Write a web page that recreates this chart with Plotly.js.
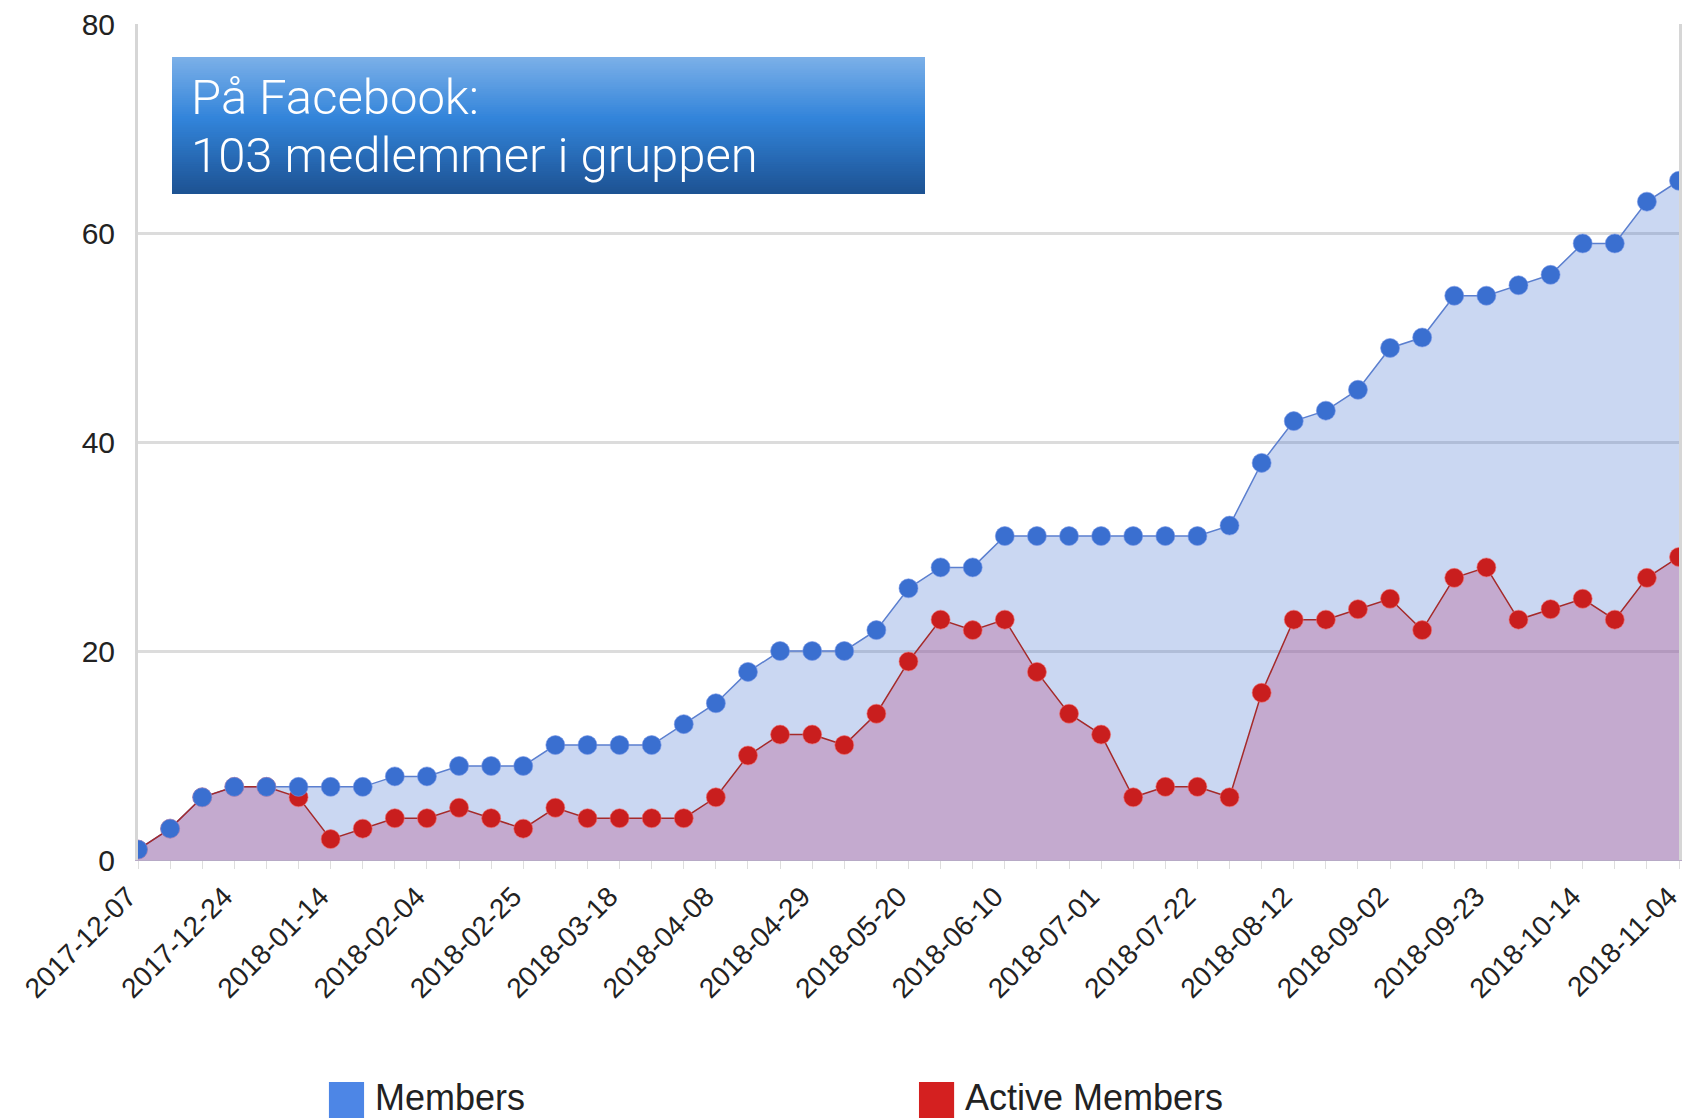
<!DOCTYPE html>
<html>
<head>
<meta charset="utf-8">
<script src="https://cdn.plot.ly/plotly-3.0.1.min.js"></script>
<style>
  html, body { margin: 0; padding: 0; background: #ffffff; }
  #chart { width: 1691px; height: 1119px; }
</style>
</head>
<body>
<div id="chart"></div>
<script>
// ---- data ----
const dates = [
  "2017-12-07","2017-12-10","2017-12-17","2017-12-24","2017-12-31","2018-01-07","2018-01-14",
  "2018-01-21","2018-01-28","2018-02-04","2018-02-11","2018-02-18","2018-02-25","2018-03-04",
  "2018-03-11","2018-03-18","2018-03-25","2018-04-01","2018-04-08","2018-04-15","2018-04-22",
  "2018-04-29","2018-05-06","2018-05-13","2018-05-20","2018-05-27","2018-06-03","2018-06-10",
  "2018-06-17","2018-06-24","2018-07-01","2018-07-08","2018-07-15","2018-07-22","2018-07-29",
  "2018-08-05","2018-08-12","2018-08-19","2018-08-26","2018-09-02","2018-09-09","2018-09-16",
  "2018-09-23","2018-09-30","2018-10-07","2018-10-14","2018-10-21","2018-10-28","2018-11-04"
];
const members = [
  1, 3, 6, 7, 7, 7, 7, 7, 8, 8, 9, 9, 9, 11, 11, 11, 11, 13, 15, 18, 20, 20, 20, 22, 26,
  28, 28, 31, 31, 31, 31, 31, 31, 31, 32, 38, 42, 43, 45, 49, 50, 54, 54, 55, 56, 59, 59, 63, 65
];
const activeMembers = [
  1, 3, 6, 7, 7, 6, 2, 3, 4, 4, 5, 4, 3, 5, 4, 4, 4, 4, 6, 10, 12, 12, 11, 14, 19,
  23, 22, 23, 18, 14, 12, 6, 7, 7, 6, 16, 23, 23, 24, 25, 22, 27, 28, 23, 24, 25, 23, 27, 29
];
const labeledDates = [
  "2017-12-07","2017-12-24","2018-01-14","2018-02-04","2018-02-25","2018-03-18","2018-04-08",
  "2018-04-29","2018-05-20","2018-06-10","2018-07-01","2018-07-22","2018-08-12","2018-09-02",
  "2018-09-23","2018-10-14","2018-11-04"
];
const yTicks = [0, 20, 40, 60, 80];
const seriesNames = ["Members", "Active Members"];
const boxLines = ["På Facebook:", "103 medlemmer i gruppen"];

// ---- styles ----
const blue = "#3a6fd0";
const red = "#c91e1e";
const legendColors = ["#4d86e6", "#d42020"];
const font = "Liberation Sans, Arial, sans-serif";

const traces = [
  { // members area + line
    x: dates, y: members, type: "scatter", mode: "lines", name: seriesNames[0],
    fill: "tozeroy", fillcolor: "rgba(51,102,204,0.26)",
    line: { color: "#5b7fcf", width: 1.5 }, showlegend: false, hoverinfo: "skip"
  },
  { // active members area + line + markers
    x: dates, y: activeMembers, type: "scatter", mode: "lines+markers", name: seriesNames[1],
    fill: "tozeroy", fillcolor: "rgba(185,86,142,0.35)",
    line: { color: "#a52a2a", width: 1.5 },
    marker: { color: red, size: 19, line: { color: "rgba(240,110,110,0.6)", width: 1 } },
    showlegend: false
  },
  { // members markers on top
    x: dates, y: members, type: "scatter", mode: "markers", name: seriesNames[0],
    marker: { color: blue, size: 19, line: { color: "rgba(120,150,230,0.6)", width: 1 } },
    showlegend: false
  }
];

// gradient box built from overlapping strips
const bx0 = 0.0221, bx1 = 0.5107, byTop = 0.9605, byBot = 0.7967;
const stops = [
  [0.0, [124, 176, 232]],
  [0.45, [50, 132, 218]],
  [1.0, [29, 82, 146]]
];
function colAt(t) {
  for (let k = 0; k < stops.length - 1; k++) {
    const a = stops[k], b = stops[k + 1];
    if (t >= a[0] && t <= b[0]) {
      const f = (t - a[0]) / (b[0] - a[0]);
      const c = a[1].map((v, j) => Math.round(v + (b[1][j] - v) * f));
      return "rgb(" + c.join(",") + ")";
    }
  }
  return "rgb(29,82,146)";
}
const shapes = [];
const N = 60;
for (let s = 0; s < N; s++) {
  const t0 = s / N;
  shapes.push({
    type: "rect", xref: "paper", yref: "paper", layer: "above",
    x0: bx0, x1: bx1,
    y0: byBot, y1: byTop - (byTop - byBot) * t0,
    fillcolor: colAt(t0 + 0.5 / N), line: { width: 0 }
  });
}

// box text lines and manual legend
const lineY = [0.9115, 0.8425];
const annotations = boxLines.map((t, i) => ({
  xref: "paper", yref: "paper", x: 0.0333, y: lineY[i], xanchor: "left", yanchor: "middle",
  text: t, showarrow: false, align: "left",
  font: { family: "Roboto, Lato, sans-serif", size: 49, color: "#ffffff", weight: 300 }
}));
const legendX = [0.1239, 0.5068];
seriesNames.forEach((nm, i) => {
  shapes.push({
    type: "rect", xref: "paper", yref: "paper",
    x0: legendX[i], x1: legendX[i] + 0.0228, y0: -0.3086, y1: -0.2656,
    fillcolor: legendColors[i], line: { width: 0 }
  });
  annotations.push({
    xref: "paper", yref: "paper", x: legendX[i] + 0.0285, y: -0.2835,
    xanchor: "left", yanchor: "middle", text: nm, showarrow: false,
    font: { family: font, size: 36, color: "#222222" }
  });
});

const layout = {
  width: 1691, height: 1119,
  margin: { l: 138, r: 12, t: 24, b: 259 },
  paper_bgcolor: "#ffffff", plot_bgcolor: "#ffffff",
  showlegend: false,
  xaxis: {
    type: "category", range: [0, dates.length - 1],
    tickvals: dates,
    ticktext: dates.map(d => labeledDates.includes(d) ? d : ""),
    tickangle: -45, ticks: "outside", ticklen: 8, tickcolor: "#dddddd", tickwidth: 1,
    ticklabelshift: -10,
    tickfont: { family: font, size: 28, color: "#222222" },
    showgrid: false, showline: true, linecolor: "#b7aac6", linewidth: 1,
    zeroline: false, fixedrange: true
  },
  yaxis: {
    range: [0, 80], tickvals: yTicks, ticktext: yTicks.map(String),
    tickfont: { family: font, size: 30, color: "#222222" },
    ticks: "", ticklabelstandoff: 14,
    showgrid: true, gridcolor: "#dcdcdc", gridwidth: 3,
    showline: true, linecolor: "#d6d6d6", linewidth: 3, mirror: true,
    zeroline: false, fixedrange: true
  },
  shapes: shapes,
  annotations: annotations
};

Plotly.newPlot("chart", traces, layout, { displayModeBar: false, staticPlot: true });
</script>
</body>
</html>
